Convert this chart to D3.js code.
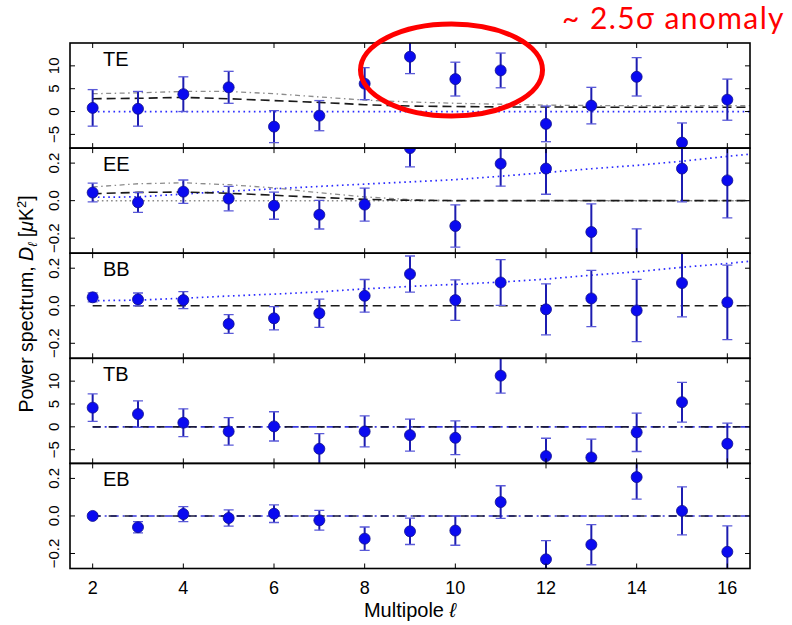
<!DOCTYPE html>
<html>
<head>
<meta charset="utf-8">
<script src="https://cdn.jsdelivr.net/npm/d3@7"></script>
<style>
  body { margin: 0; background: #fff; }
  svg { display: block; }
</style>
</head>
<body>
<script>
// multipoles of the measured band powers
const ell = [2, 3, 4, 5, 6, 7, 8, 9, 10, 11, 12, 13, 14, 15, 16];
// multipoles used for the model curves (run past the edge, clipped)
const modelEll = [2, 3, 4, 5, 6, 7, 8, 9, 10, 11, 12, 13, 14, 15, 16, 17];
const flatEll = [2, 17];
const flatZero = [0, 0];

const teVal = [0.8, 0.6, 3.8, 5.3, -3.3, -0.9, 6.1, 12.0, 7.1, 9.0, -2.7, 1.3, 7.6, -6.8, 2.6];
const teErr = [4.0, 3.8, 3.8, 3.5, 3.5, 3.3, 3.5, 3.7, 3.7, 3.8, 3.9, 4.0, 4.2, 4.3, 4.5];
const eeVal = [0.043, -0.009, 0.048, 0.011, -0.027, -0.075, -0.021, 0.28, -0.135, 0.197, 0.171, -0.167, -0.31, 0.171, 0.108];
const eeErr = [0.05, 0.053, 0.062, 0.065, 0.072, 0.076, 0.088, 0.10, 0.113, 0.12, 0.137, 0.15, 0.16, 0.178, 0.2];
const bbVal = [0.045, 0.034, 0.030, -0.097, -0.067, -0.040, 0.053, 0.169, 0.030, 0.124, -0.019, 0.039, -0.025, 0.121, 0.018];
const bbErr = [0.024, 0.034, 0.045, 0.05, 0.062, 0.075, 0.087, 0.096, 0.108, 0.122, 0.136, 0.15, 0.166, 0.18, 0.198];
const tbVal = [4.2, 2.8, 0.9, -1.0, 0.1, -4.8, -1.0, -1.8, -2.4, 11.2, -6.4, -6.7, -1.2, 5.4, -3.7];
const tbErr = [3.0, 2.9, 3.05, 3.0, 3.2, 3.3, 3.4, 3.5, 3.7, 3.8, 3.9, 4.0, 4.2, 4.35, 4.5];
const ebVal = [0.0, -0.06, 0.01, -0.011, 0.012, -0.023, -0.121, -0.082, -0.078, 0.074, -0.231, -0.153, 0.207, 0.027, -0.191];
const ebErr = [0.01, 0.03, 0.04, 0.043, 0.047, 0.053, 0.062, 0.07, 0.078, 0.087, 0.1, 0.107, 0.117, 0.128, 0.138];

// model curves
const teDashed  = [2.8, 2.9, 3.1, 2.8, 2.4, 2.0, 1.5, 1.2, 1.1, 1.0, 1.0, 0.95, 0.95, 0.95, 0.95, 0.95];
const teDashDot = [3.9, 4.1, 4.4, 4.4, 3.9, 3.2, 2.5, 2.1, 1.8, 1.6, 1.4, 1.3, 1.3, 1.3, 1.3, 1.3];
const eeDashed  = [0.037, 0.044, 0.046, 0.039, 0.029, 0.017, 0.007, 0.002, 0, 0, 0, 0, 0, 0, 0, 0];
const eeDashDot = [0.073, 0.09, 0.095, 0.085, 0.068, 0.042, 0.02, 0.006, 0, 0, 0, 0, 0, 0, 0, 0];
const eeDotted  = [0.018, 0.02, 0.035, 0.05, 0.063, 0.076, 0.088, 0.1, 0.112, 0.13, 0.15, 0.17, 0.188, 0.21, 0.236, 0.26];
const bbDotted  = [0.027, 0.03, 0.04, 0.052, 0.062, 0.074, 0.09, 0.103, 0.114, 0.126, 0.142, 0.163, 0.181, 0.205, 0.225, 0.25];

// tick values and labels
const xTicks = [2, 4, 6, 8, 10, 12, 14, 16];
const tTicks = [-5, 0, 5, 10];
const tTickLabels = ['\u22125', '0', '5', '10'];
const pTicks = [-0.2, 0, 0.2];
const pTickLabels = ['\u22120.2', '0.0', '0.2'];

const width = 792, height = 625;
const left = 70, right = 750;
const top0 = 43, panelH = 105.1;

const styles = {
  dashed:   { stroke: '#1a1a1a', width: 1.6, dash: '9,5' },
  dashdot:  { stroke: '#8c8c8c', width: 1.3, dash: '5,3.5,1.5,3.5' },
  blueDot:  { stroke: '#2a2aff', width: 1.7, dash: '1.6,3.6' },
  grayDot:  { stroke: '#8a8a8a', width: 1.5, dash: '1.6,3' },
  blueDD:   { stroke: '#3a3ae0', width: 1.6, dash: '8,4,2,4' },
  blackDD:  { stroke: '#1a1a3a', width: 1.6, dash: '8,8' }
};

const panels = [
  { name: 'TE', vals: teVal, errs: teErr, domain: [-8, 15], ticks: tTicks, labels: tTickLabels,
    lines: [[flatEll, flatZero, 'blueDot'], [modelEll, teDashDot, 'dashdot'], [modelEll, teDashed, 'dashed']] },
  { name: 'EE', vals: eeVal, errs: eeErr, domain: [-0.28, 0.28], ticks: pTicks, labels: pTickLabels,
    lines: [[flatEll, flatZero, 'grayDot'], [modelEll, eeDotted, 'blueDot'], [modelEll, eeDashDot, 'dashdot'], [modelEll, eeDashed, 'dashed']] },
  { name: 'BB', vals: bbVal, errs: bbErr, domain: [-0.28, 0.28], ticks: pTicks, labels: pTickLabels,
    lines: [[modelEll, bbDotted, 'blueDot'], [flatEll, flatZero, 'dashed']] },
  { name: 'TB', vals: tbVal, errs: tbErr, domain: [-8, 15], ticks: tTicks, labels: tTickLabels,
    lines: [[flatEll, flatZero, 'blueDD'], [flatEll, flatZero, 'blackDD']] },
  { name: 'EB', vals: ebVal, errs: ebErr, domain: [-0.28, 0.28], ticks: pTicks, labels: pTickLabels,
    lines: [[flatEll, flatZero, 'blueDD'], [flatEll, flatZero, 'blackDD']] }
];

const font = "'Liberation Sans', Arial, sans-serif";

const svg = d3.select('body').append('svg')
  .attr('width', width)
  .attr('height', height)
  .style('font-family', font);

const xScale = d3.scaleLinear().domain([1.5, 16.5]).range([left, right]);

panels.forEach((p, i) => {
  const y0 = top0 + i * panelH;
  const yScale = d3.scaleLinear().domain(p.domain).range([y0 + panelH, y0]);
  const clipId = 'clip' + i;

  svg.append('clipPath').attr('id', clipId)
    .append('rect')
    .attr('x', left).attr('y', y0)
    .attr('width', right - left).attr('height', panelH);

  const g = svg.append('g').attr('clip-path', `url(#${clipId})`);

  // model curves
  p.lines.forEach(([xs, ys, s]) => {
    const st = styles[s];
    const line = d3.line().x(d => xScale(d[0])).y(d => yScale(d[1]));
    g.append('path')
      .datum(xs.map((x, k) => [x, ys[k]]))
      .attr('d', line)
      .attr('fill', 'none')
      .attr('stroke', st.stroke)
      .attr('stroke-width', st.width)
      .attr('stroke-dasharray', st.dash);
  });

  const pts = ell.map((l, k) => ({ l: l, v: p.vals[k], e: p.errs[k] }));

  // error bars
  g.selectAll('line.err').data(pts).join('line')
    .attr('class', 'err')
    .attr('x1', d => xScale(d.l)).attr('x2', d => xScale(d.l))
    .attr('y1', d => yScale(d.v - d.e)).attr('y2', d => yScale(d.v + d.e))
    .attr('stroke', '#1c1cb0').attr('stroke-width', 2);

  [-1, 1].forEach(sgn => {
    g.selectAll('line.cap' + (sgn > 0 ? 'hi' : 'lo')).data(pts).join('line')
      .attr('class', 'cap' + (sgn > 0 ? 'hi' : 'lo'))
      .attr('x1', d => xScale(d.l) - 5).attr('x2', d => xScale(d.l) + 5)
      .attr('y1', d => yScale(d.v + sgn * d.e)).attr('y2', d => yScale(d.v + sgn * d.e))
      .attr('stroke', '#5a5ad8').attr('stroke-width', 1.3);
  });

  // markers
  g.selectAll('circle').data(pts).join('circle')
    .attr('cx', d => xScale(d.l))
    .attr('cy', d => yScale(d.v))
    .attr('r', 5.5)
    .attr('fill', '#0a0af0')
    .attr('stroke', '#10108a')
    .attr('stroke-width', 0.8);

  // frame
  svg.append('rect')
    .attr('x', left).attr('y', y0)
    .attr('width', right - left).attr('height', panelH)
    .attr('fill', 'none').attr('stroke', '#000').attr('stroke-width', 1.6);

  // inward ticks, x on top and bottom
  const ax = svg.append('g').attr('stroke', '#000').attr('stroke-width', 1);
  xTicks.forEach(t => {
    ax.append('line').attr('x1', xScale(t)).attr('x2', xScale(t)).attr('y1', y0).attr('y2', y0 + 5);
    ax.append('line').attr('x1', xScale(t)).attr('x2', xScale(t)).attr('y1', y0 + panelH).attr('y2', y0 + panelH - 5);
  });
  // y ticks, left and right
  p.ticks.forEach(t => {
    ax.append('line').attr('x1', left).attr('x2', left + 5).attr('y1', yScale(t)).attr('y2', yScale(t));
    ax.append('line').attr('x1', right).attr('x2', right - 5).attr('y1', yScale(t)).attr('y2', yScale(t));
  });

  // rotated y tick labels
  p.ticks.forEach((t, k) => {
    svg.append('text')
      .attr('transform', `translate(58.5,${yScale(t)}) rotate(-90)`)
      .attr('text-anchor', 'middle')
      .attr('font-size', 15)
      .attr('fill', '#000')
      .text(p.labels[k]);
  });

  // panel name
  svg.append('text')
    .attr('x', 103).attr('y', y0 + 22.5)
    .attr('font-size', 20)
    .attr('fill', '#000')
    .text(p.name);
});

// x tick labels under the last panel
xTicks.forEach(t => {
  svg.append('text')
    .attr('x', xScale(t)).attr('y', 594)
    .attr('text-anchor', 'middle')
    .attr('font-size', 18)
    .attr('fill', '#000')
    .text(t);
});

// axis titles
const xl = svg.append('text')
  .attr('x', 410).attr('y', 617)
  .attr('text-anchor', 'middle')
  .attr('font-size', 20)
  .attr('fill', '#000');
xl.append('tspan').text('Multipole ');
xl.append('tspan').attr('font-style', 'italic').text('\u2113');

const yl = svg.append('text')
  .attr('transform', 'translate(33,304) rotate(-90)')
  .attr('text-anchor', 'middle')
  .attr('font-size', 19.5)
  .attr('fill', '#000');
yl.append('tspan').text('Power spectrum, ');
yl.append('tspan').attr('font-style', 'italic').text('D');
yl.append('tspan').attr('font-style', 'italic').attr('font-size', 13).attr('dy', 4).text('\u2113');
yl.append('tspan').attr('dy', -4).text('  [');
yl.append('tspan').attr('font-style', 'italic').text('\u03bc');
yl.append('tspan').text('K');
yl.append('tspan').attr('font-size', 13).attr('dy', -7).text('2');
yl.append('tspan').attr('dy', 7).text(']');

// annotation
svg.append('ellipse')
  .attr('cx', 451.5).attr('cy', 70)
  .attr('rx', 91).attr('ry', 46)
  .attr('fill', 'none')
  .attr('stroke', '#f00')
  .attr('stroke-width', 5);

svg.append('text')
  .attr('x', 562).attr('y', 29)
  .attr('font-family', 'Lato, sans-serif')
  .attr('font-size', 30)
  .attr('letter-spacing', 1.4)
  .attr('fill', '#f00')
  .text('~ 2.5\u03c3 anomaly');
</script>
</body>
</html>
